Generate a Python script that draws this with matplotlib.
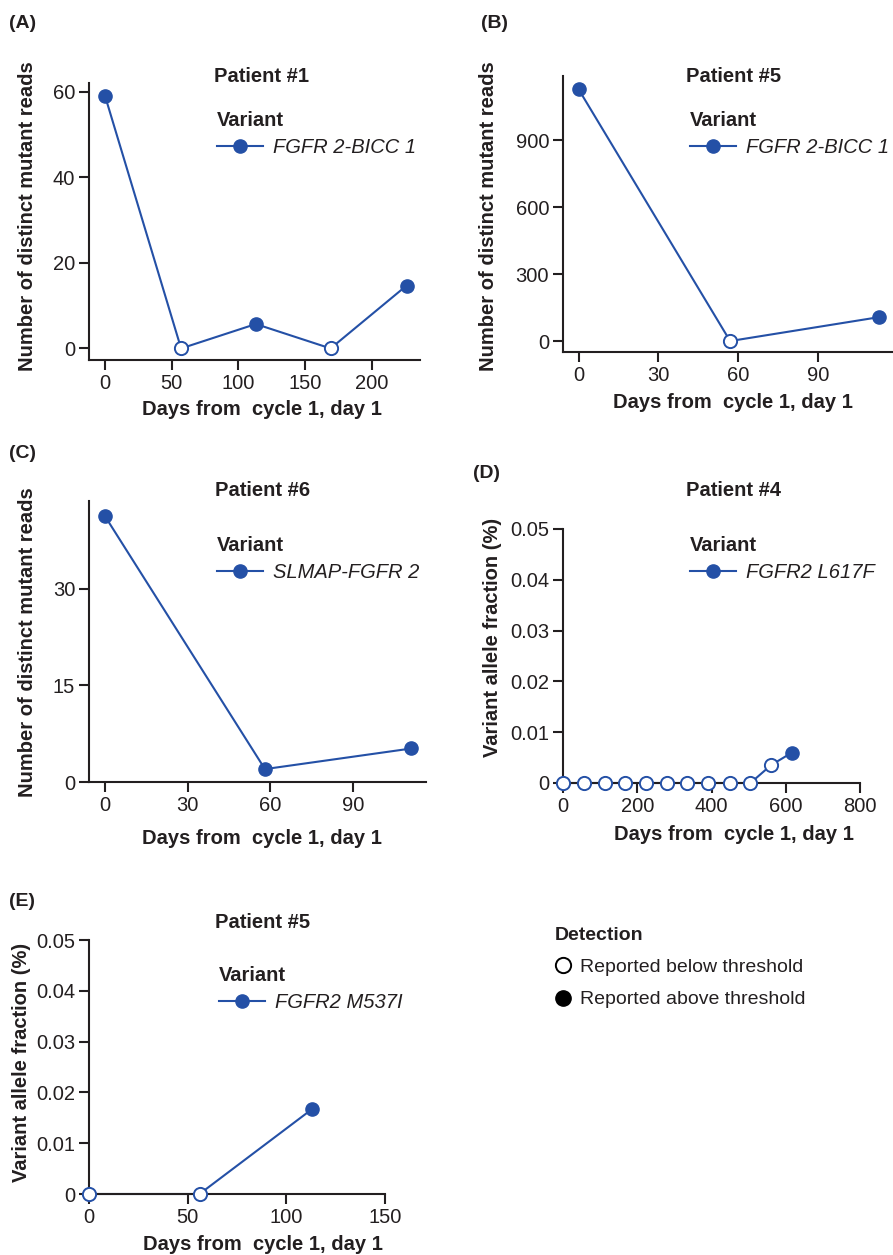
import numpy as np
import matplotlib.pyplot as plt
from matplotlib.lines import Line2D
from matplotlib.ticker import FuncFormatter

plt.rcParams['font.family'] = ['Liberation Sans', 'DejaVu Sans']
plt.rcParams['text.color'] = '#231f20'
plt.rcParams['axes.edgecolor'] = '#231f20'
plt.rcParams['xtick.color'] = '#231f20'
plt.rcParams['ytick.color'] = '#231f20'

# data
a_days = [0, 57, 113, 169, 226]
a_reads = [59, 0, 5.7, 0, 14.7]
a_above = [True, False, True, False, True]

b_days = [0, 57, 113]
b_reads = [1127, 0, 107]
b_above = [True, False, True]

c_days = [0, 58, 111]
c_reads = [41.3, 2.0, 5.2]
c_above = [True, True, True]

d_days = [0, 56, 112, 168, 223, 279, 335, 390, 449, 505, 560, 617]
d_vaf = [0, 0, 0, 0, 0, 0, 0, 0, 0, 0, 0.0035, 0.006]
d_above = [False] * 11 + [True]

e_days = [0, 56, 113]
e_vaf = [0, 0, 0.0167]
e_above = [False, False, True]

BLUE = '#2450a6'
W, H = 893, 1255

fig = plt.figure(figsize=(W / 100, H / 100), dpi=100, facecolor='white')


def px_axes(x0, y0, x1, y1):
    return fig.add_axes([x0 / W, 1 - y1 / H, (x1 - x0) / W, (y1 - y0) / H])


def ftext(x, y, s, **kw):
    return fig.text(x / W, 1 - y / H, s, **kw)


def panel(ax, days, vals, above, xlim, ylim, xticks, yticks, variant, leg_xy):
    days = np.array(days)
    vals = np.array(vals)
    above = np.array(above)
    ax.plot(days, vals, color=BLUE, lw=1.5, zorder=2, clip_on=False)
    ax.plot(days[above], vals[above], 'o', color=BLUE, ms=9.5, zorder=3, clip_on=False)
    ax.plot(days[~above], vals[~above], 'o', mfc='white', mec=BLUE, mew=1.4,
            ms=9.5, zorder=3, clip_on=False)
    ax.set_xlim(xlim)
    ax.set_ylim(ylim)
    ax.set_xticks(xticks)
    ax.set_yticks(yticks)
    for s in ['top', 'right']:
        ax.spines[s].set_visible(False)
    for s in ['left', 'bottom']:
        ax.spines[s].set_linewidth(1.5)
    ax.tick_params(direction='out', length=7, width=1.5, labelsize=14.5, pad=3)
    ax.patch.set_alpha(0)
    h = Line2D([], [], color=BLUE, lw=1.5, marker='o', ms=9.5)
    leg = ax.legend([h], [variant], title='Variant', loc='upper left',
                    bbox_to_anchor=(leg_xy[0] / W, 1 - leg_xy[1] / H),
                    bbox_transform=fig.transFigure, frameon=False,
                    borderpad=0, borderaxespad=0, handlelength=2.3,
                    handletextpad=0.5, labelspacing=0.4,
                    prop={'size': 14.5, 'style': 'italic'},
                    title_fontproperties={'size': 14.5, 'weight': 'bold'},
                    alignment='left')
    return leg


vaf_fmt = FuncFormatter(lambda v, p: '0' if v == 0 else '%.2f' % v)

# (A)
axA = px_axes(89, 83, 420, 360)
panel(axA, a_days, a_reads, a_above, (-12, 236), (-2.7, 62),
      [0, 50, 100, 150, 200], [0, 20, 40, 60], 'FGFR 2-BICC 1', (217, 111))

# (B)
axB = px_axes(563, 76, 893, 352)
panel(axB, b_days, b_reads, b_above, (-5.9, 118.3), (-49, 1187),
      [0, 30, 60, 90], [0, 300, 600, 900], 'FGFR 2-BICC 1', (690, 111))

# (C)
axC = px_axes(89, 501, 426, 782)
panel(axC, c_days, c_reads, c_above, (-5.7, 116.3), (0, 43.6),
      [0, 30, 60, 90], [0, 15, 30], 'SLMAP-FGFR 2', (217, 536))

# (D)
axD = px_axes(563, 529, 860, 783)
panel(axD, d_days, d_vaf, d_above, (0, 800), (0, 0.05),
      [0, 200, 400, 600, 800], [0, 0.01, 0.02, 0.03, 0.04, 0.05],
      'FGFR2 L617F', (690, 536))
axD.yaxis.set_major_formatter(vaf_fmt)

# (E)
axE = px_axes(89, 940, 385, 1194)
panel(axE, e_days, e_vaf, e_above, (0, 150), (0, 0.05),
      [0, 50, 100, 150], [0, 0.01, 0.02, 0.03, 0.04, 0.05],
      'FGFR2 M537I', (219, 966))
axE.yaxis.set_major_formatter(vaf_fmt)

# panel letters
for x, y, s in [(9, 23, '(A)'), (481, 23, '(B)'), (9, 453, '(C)'),
                (473, 474, '(D)'), (9, 902, '(E)')]:
    ftext(x, y, s, ha='left', va='center', fontsize=14, fontweight='bold')

# patient titles
for x, y, s in [(262, 76, 'Patient #1'), (734, 76, 'Patient #5'),
                (263, 491, 'Patient #6'), (734, 491, 'Patient #4'),
                (263, 923, 'Patient #5')]:
    ftext(x, y, s, ha='center', va='center', fontsize=14.5, fontweight='bold')

# axis labels
xlab = 'Days from  cycle 1, day 1'
for x, y in [(262, 410), (733, 403), (262, 839), (734, 835), (263, 1245)]:
    ftext(x, y, xlab, ha='center', va='center', fontsize=14.5, fontweight='bold')

ylab1 = 'Number of distinct mutant reads'
ylab2 = 'Variant allele fraction (%)'
for x, y, s in [(28, 216, ylab1), (489, 216, ylab1), (28, 642, ylab1),
                (492, 637, ylab2), (22, 1062, ylab2)]:
    ftext(x, y, s, ha='center', va='center', rotation=90, fontsize=14.5,
          fontweight='bold')

# detection legend
det_handles = [Line2D([], [], ls='none', marker='o', mfc='white', mec='black',
                      mew=1.4, ms=11),
               Line2D([], [], ls='none', marker='o', color='black', ms=11)]
fig.legend(det_handles, ['Reported below threshold', 'Reported above threshold'],
           title='Detection', loc='upper left',
           bbox_to_anchor=(555 / W, 1 - 927 / H), frameon=False,
           borderpad=0, borderaxespad=0, handlelength=0.8, handletextpad=0.5,
           labelspacing=0.75, prop={'size': 14},
           title_fontproperties={'size': 14, 'weight': 'bold'},
           alignment='left')

fig.savefig('out.png', dpi=100, facecolor='white')
